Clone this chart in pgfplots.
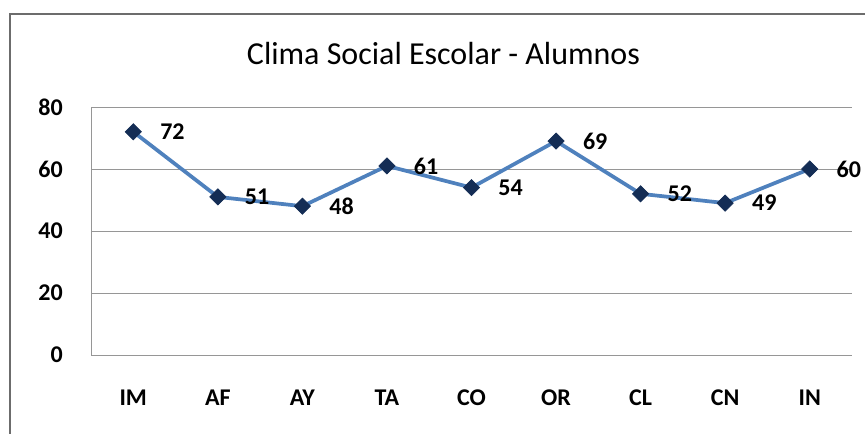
\documentclass[border=0pt]{standalone}
\usepackage{pgfplots}
\pgfplotsset{compat=1.18}
\usepackage{fontspec}
\setmainfont{Carlito}
\definecolor{linecol}{RGB}{79,129,189}
\definecolor{markcol}{RGB}{20,45,85}
\definecolor{gridcol}{RGB}{150,150,150}
\begin{document}
\begin{tikzpicture}
\path[use as bounding box] (0,0) rectangle (648.75pt,324.75pt);
\draw[line width=1.5pt, color=gray!85!black] (7.5pt,-2pt) -- (7.5pt,314.25pt) -- (652pt,314.25pt);
\node[font=\fontsize{24}{28}\selectfont, anchor=base] at (332.6pt,276pt) {Clima Social Escolar - Alumnos};
\begin{axis}[
  at={(68.25pt,58.5pt)}, anchor=south west,
  scale only axis, width=570.75pt, height=186pt,
  xmin=-0.5, xmax=8.5, ymin=0, ymax=80,
  xtick={0,...,8},
  xticklabels={IM,AF,AY,TA,CO,OR,CL,CN,IN},
  ytick={0,20,40,60,80},
  axis lines*=left,
  axis line style={gridcol, line width=0.6pt, -},
  ymajorgrids, grid style={gridcol, line width=0.6pt},
  major tick length=0pt,
  tick style={draw=none},
  /pgf/number format/assume math mode=true,
  ticklabel style={font=\fontsize{18}{20}\selectfont\bfseries},
  yticklabel style={inner sep=0pt, anchor=east, xshift=-21pt},
  xticklabel style={inner sep=0pt, anchor=base, yshift=-38pt},
  clip=false,
]
\addplot[color=linecol, line width=2.8pt, mark=square*, mark size=4.3pt,
  mark options={rotate=45, fill=markcol, draw=markcol, line width=0.5pt},
  nodes near coords,
  every node near coord/.append style={anchor=west, xshift=20pt, inner sep=0pt, font=\fontsize{18}{20}\selectfont\bfseries, text=black},
] coordinates {
  (0,72) (1,51) (2,48) (3,61) (4,54) (5,69) (6,52) (7,49) (8,60)
};
\end{axis}
\end{tikzpicture}
\end{document}
